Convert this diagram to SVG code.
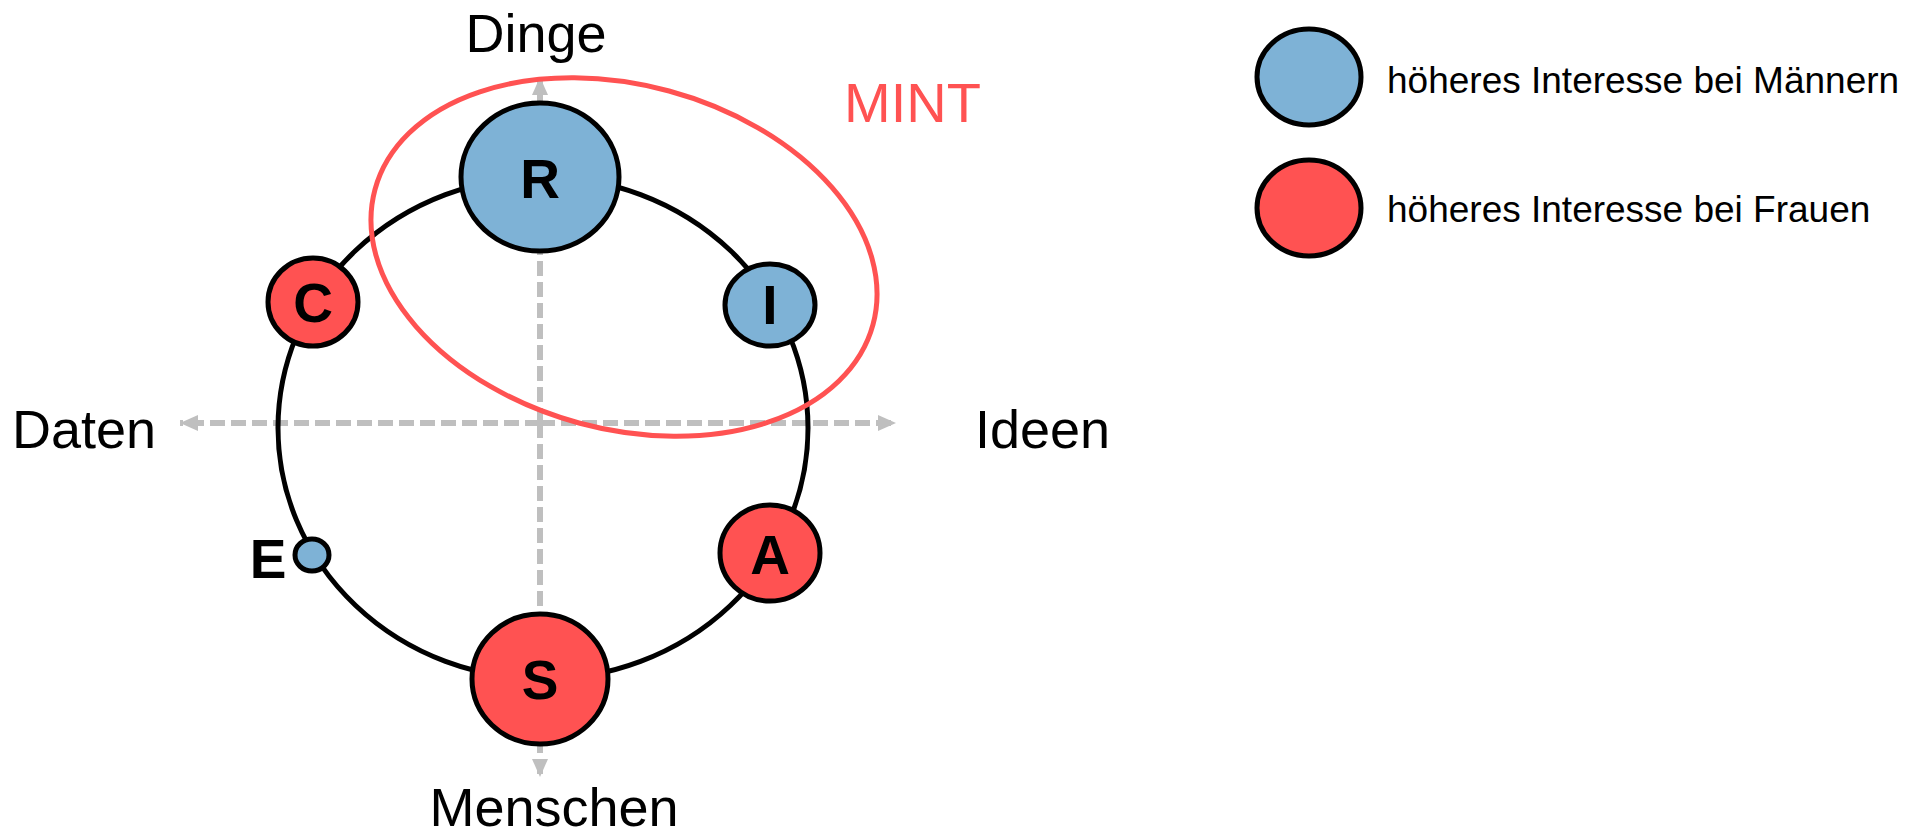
<svg xmlns="http://www.w3.org/2000/svg" width="1924" height="836" viewBox="0 0 1924 836">
<style>
.axis{stroke:#bfbfbf;stroke-width:6;stroke-dasharray:15 6;fill:none}
.ring{stroke:#000;stroke-width:5;fill:none}
.node{stroke:#000;stroke-width:5}
.m{fill:#7eb2d6}
.f{fill:#ff5252}
.lbl{font-family:"Liberation Sans",Arial,sans-serif;font-weight:bold;font-size:55px;fill:#000;text-anchor:middle}
.ax{font-family:"Liberation Sans",Arial,sans-serif;font-size:54px;fill:#000}
.leg{font-family:"Liberation Sans",Arial,sans-serif;font-size:37px;fill:#000}
</style>
<defs>
<marker id="arr" viewBox="0 0 18 16" refX="18" refY="8" markerWidth="18" markerHeight="16" markerUnits="userSpaceOnUse" orient="auto">
<path d="M0,0 L18,8 L0,16 Z" fill="#bfbfbf"/>
</marker>
</defs>
<rect width="1924" height="836" fill="#fff"/>
<g id="connectors">
<line class="axis" x1="540" y1="423" x2="540" y2="77" marker-end="url(#arr)"/>
<line class="axis" x1="540" y1="423" x2="540" y2="777" marker-end="url(#arr)"/>
<line class="axis" x1="540" y1="423" x2="180" y2="423" marker-end="url(#arr)"/>
<line class="axis" x1="540" y1="423" x2="896" y2="423" marker-end="url(#arr)"/>
<ellipse class="ring" cx="543" cy="428" rx="265" ry="251"/>
</g>
<g id="mint">
<ellipse cx="624" cy="257" rx="258" ry="172" transform="rotate(15.2 624 257)" fill="none" stroke="#ff5252" stroke-width="5"/>
<text x="844" y="122" font-family="Liberation Sans, Arial, sans-serif" font-size="56" fill="#ff5252">MINT</text>
</g>
<g id="labels">
<text class="ax" x="536" y="52" text-anchor="middle">Dinge</text>
<text class="ax" x="554" y="826" text-anchor="middle">Menschen</text>
<text class="ax" x="12" y="448">Daten</text>
<text class="ax" x="975" y="448">Ideen</text>
</g>
<g id="node-R"><ellipse class="node m" cx="540" cy="177" rx="79" ry="74"/><text class="lbl" x="540" y="198">R</text></g>
<g id="node-C"><ellipse class="node f" cx="313" cy="302" rx="45" ry="44"/><text class="lbl" x="313" y="322">C</text></g>
<g id="node-I"><ellipse class="node m" cx="770" cy="305" rx="45" ry="41"/><text class="lbl" x="770" y="324">I</text></g>
<g id="node-A"><ellipse class="node f" cx="770" cy="553" rx="50" ry="48"/><text class="lbl" x="770" y="574">A</text></g>
<g id="node-S"><ellipse class="node f" cx="540" cy="679" rx="68" ry="65"/><text class="lbl" x="540" y="699">S</text></g>
<g id="node-E"><ellipse class="node m" cx="312" cy="555" rx="17" ry="16"/><text class="lbl" x="268" y="578">E</text></g>
<g id="legend-m"><ellipse class="node m" cx="1309" cy="77" rx="52" ry="48"/><text class="leg" x="1387" y="93">höheres Interesse bei Männern</text></g>
<g id="legend-f"><ellipse class="node f" cx="1309" cy="208" rx="52" ry="48"/><text class="leg" x="1387" y="222">höheres Interesse bei Frauen</text></g>
</svg>
